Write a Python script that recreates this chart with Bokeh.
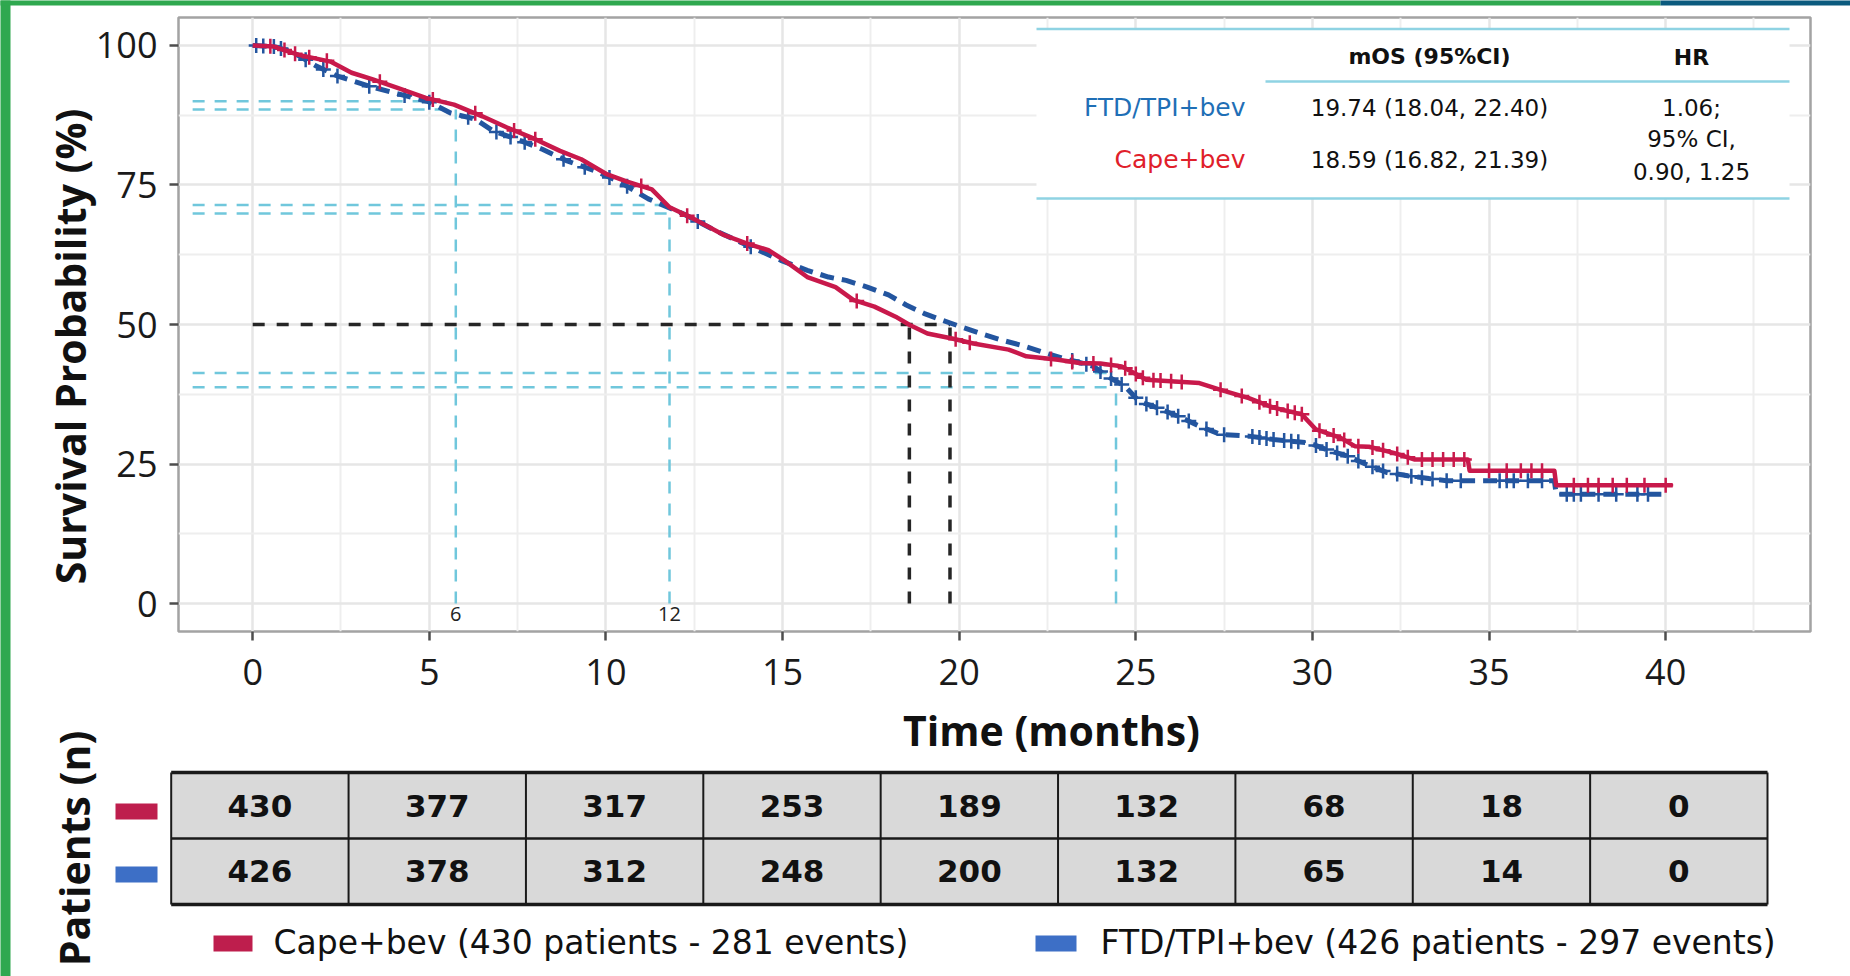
import numpy as np
from bokeh.plotting import figure
from bokeh.models import Range1d, FixedTicker
from bokeh.core.properties import value
from bokeh.embed import file_html
from bokeh.resources import INLINE

# ---------------- data ----------------
cape_t = [0, 0.6, 1.3, 2.2, 2.8, 3.4, 4.1, 4.9, 5.7, 6.5, 7.2, 8.0, 8.7, 9.3, 10.0, 10.6,
          11.3, 11.8, 12.4, 13.35, 14.0, 14.6, 15.05, 15.7, 16.5, 17.0, 17.6, 18.2, 18.6,
          19.1, 19.8, 20.4, 21.4, 21.9, 22.8, 23.4, 24.0, 24.6, 24.95, 25.3, 26.1, 26.8,
          27.4, 28.2, 28.9, 29.7, 30.1, 30.8, 31.2, 31.6, 32.3, 32.9, 34.4, 34.45, 36.85,
          36.9, 40.2]
cape_s = [100, 99.8, 98.3, 97.1, 95.1, 93.9, 92.4, 90.6, 89.4, 87.3, 85.3, 83.2, 81.1, 79.6,
          77.0, 75.6, 74.2, 71.0, 69.2, 66.0, 64.5, 63.3, 61.5, 58.5, 56.7, 54.4, 53.2, 51.4,
          49.9, 48.4, 47.5, 46.6, 45.5, 44.3, 43.7, 43.1, 43.0, 42.5, 41.3, 40.1, 39.8, 39.5,
          38.3, 36.8, 35.1, 33.9, 31.2, 29.7, 28.2, 28.1, 27.0, 25.8, 25.8, 23.8, 23.8, 21.2,
          21.2]
ftd_t = [0, 0.6, 1.1, 1.8, 2.4, 3.3, 4.0, 4.95, 5.6, 6.3, 6.8, 7.6, 8.2, 8.9, 9.7, 10.4,
         11.2, 11.75, 12.2, 13.1, 14.0, 14.95, 15.7, 16.3, 16.8, 17.4, 18.0, 18.5, 19.0,
         19.5, 20.05, 20.6, 21.2, 21.75, 22.3, 22.9, 23.3, 23.8, 24.2, 24.7, 25.1, 25.6,
         26.3, 26.8, 27.4, 28.2, 28.9, 29.9, 30.4, 31.0, 31.5, 32.1, 32.7, 33.3, 33.8,
         36.85, 36.9, 39.9]
ftd_s = [100, 99.8, 98.9, 96.3, 94.5, 92.7, 91.5, 90.0, 87.9, 86.8, 84.7, 82.9, 81.4, 79.3,
         77.5, 75.5, 72.5, 71.0, 69.8, 66.8, 64.2, 61.5, 59.7, 58.5, 57.9, 56.7, 55.3, 53.5,
         52.0, 50.8, 49.6, 48.4, 47.2, 46.3, 45.2, 44.0, 43.4, 42.5, 40.7, 38.9, 36.2, 35.1,
         33.3, 31.8, 30.3, 30.0, 29.4, 28.8, 27.6, 26.4, 25.0, 23.5, 22.9, 22.4, 22.0, 22.0,
         19.6, 19.6]
cape_censor = [0.5, 0.9, 1.2, 1.6, 2.1, 3.6, 5.1, 6.3, 7.4, 8.0, 11.0, 12.3, 14.0, 17.1,
               19.9, 20.3, 22.6, 23.2, 23.8, 24.3, 24.7, 25.0, 25.2, 25.5, 25.7, 26.0, 26.3,
               27.4, 28.0, 28.5, 28.8, 29.0, 29.3, 29.5, 29.7, 30.2, 30.6, 30.9, 31.3, 31.7,
               32.0, 32.4, 32.7, 33.1, 33.4, 33.7, 34.0, 34.3, 35.0, 35.5, 35.9, 36.2, 36.5,
               37.4, 37.8, 38.1, 38.5, 38.9, 39.4, 40.0]
ftd_censor = [0.1, 0.3, 0.6, 0.8, 1.5, 2.0, 2.4, 3.3, 4.3, 5.0, 6.1, 6.9, 7.3, 7.7, 8.8, 9.4,
              10.1, 10.6, 12.6, 14.1, 23.2, 23.6, 24.0, 24.3, 24.6, 25.0, 25.3, 25.6, 25.9,
              26.2, 26.5, 27.0, 27.5, 28.3, 28.5, 28.7, 28.9, 29.2, 29.4, 29.6, 30.1, 30.4,
              30.7, 31.0, 31.3, 31.7, 32.0, 32.4, 32.8, 33.1, 33.4, 33.8, 34.2, 35.3, 35.5,
              35.7, 36.1, 36.5, 37.2, 37.4, 37.6, 38.1, 38.6, 39.2, 39.5]

arms = ["FTD/TPI+bev", "Cape+bev"]
mos = [19.74, 18.59]
mos_lo = [18.04, 16.82]
mos_hi = [22.40, 21.39]
hr, hr_lo, hr_hi = 1.06, 0.90, 1.25

risk_times = [0, 5, 10, 15, 20, 25, 30, 35, 40]
risk_cape = [430, 377, 317, 253, 189, 132, 68, 18, 0]
risk_ftd = [426, 378, 312, 248, 200, 132, 65, 14, 0]
legend_cape = "Cape+bev (430 patients - 281 events)"
legend_ftd = "FTD/TPI+bev (426 patients - 297 events)"

landmark_x = [5.75, 11.8, 24.44]
landmark_label = ["6", "12", ""]
landmark_hi = [90.0, 71.4, 41.3]
landmark_lo = [88.5, 69.9, 38.75]

x_ticks = [0, 5, 10, 15, 20, 25, 30, 35, 40]
y_ticks = [0, 25, 50, 75, 100]
x_title = "Time (months)"
y_title = "Survival Probability (%)"
table_title = "Patients (n)"

# ---------------- layout constants ----------------
PAGE_W, PAGE_H = 1850, 976
FL, FR, FT, FB = 178, 1810, 17, 631
X0, X1, Y0, Y1 = -2.1, 44.1, -5.0, 105.0

RED = "#c8194b"
BLUE = "#23559f"
RED_SQ = "#be1e4d"
BLUE_SQ = "#3d6fc6"
CYAN = "#70c7dc"
GREEN = "#2fa84f"


def dx(px):
    return X0 + (px - FL) * (X1 - X0) / (FR - FL)


def dy(py):
    return Y1 - (py - FT) * (Y1 - Y0) / (FB - FT)


p = figure(width=PAGE_W, height=PAGE_H, x_range=Range1d(X0, X1), y_range=Range1d(Y0, Y1),
           output_backend="svg", toolbar_location=None,
           min_border_left=FL, min_border_right=PAGE_W - FR,
           min_border_top=FT, min_border_bottom=PAGE_H - FB,
           background_fill_color="white", border_fill_color="white")
p.outline_line_color = "#a3a3a3"
p.outline_line_width = 2.5

p.xaxis.ticker = FixedTicker(ticks=x_ticks, minor_ticks=[t + 2.5 for t in x_ticks])
p.yaxis.ticker = FixedTicker(ticks=y_ticks, minor_ticks=[t + 12.5 for t in y_ticks[:-1]])
for ax in (p.xaxis[0], p.yaxis[0]):
    ax.axis_line_color = None
    ax.major_tick_line_color = "#4d4d4d"
    ax.major_tick_line_width = 2.5
    ax.major_tick_out = 9
    ax.major_tick_in = 0
    ax.minor_tick_line_color = None
    ax.major_label_text_font = "Open Sans"
    ax.major_label_text_font_size = "36px"
    ax.major_label_text_color = "#1a1a1a"
p.xaxis.major_label_standoff = 18
p.yaxis.major_label_standoff = 12

for g in (p.xgrid[0], p.ygrid[0]):
    g.grid_line_color = "#e6e6e6"
    g.grid_line_width = 2.5
    g.minor_grid_line_color = "#eeeeee"
    g.minor_grid_line_width = 2

TITLE = dict(text_font=value("Open Sans"), text_font_style="bold", text_font_size="41px",
             text_color="#111111", level="overlay")
# axis titles (placed where the reference has them)
p.text(x=[dx(1051)], y=[dy(729)], text=[x_title], text_align="center",
       text_baseline="alphabetic", **TITLE)
p.text(x=[dx(69)], y=[dy(346)], text=[y_title], angle=np.pi / 2, text_align="center",
       text_baseline="middle", **TITLE)

# ---------------- inset table box (inside the panel) ----------------
IL, IR, ITop, IHead, IBot = 1036, 1789, 28.5, 81, 198
p.quad(left=dx(IL), right=dx(IR), top=dy(ITop), bottom=dy(IBot),
       fill_color="white", line_color=None)

# ---------------- reference lines ----------------
n_l = len(landmark_x)
p.segment(x0=[-1.7] * n_l, y0=landmark_hi, x1=landmark_x, y1=landmark_hi,
          line_color=CYAN, line_width=2.5, line_dash="12 10")
p.segment(x0=[-1.7] * n_l, y0=landmark_lo, x1=landmark_x, y1=landmark_lo,
          line_color=CYAN, line_width=2.5, line_dash="12 10")
p.segment(x0=landmark_x, y0=[0] * n_l, x1=landmark_x, y1=landmark_lo,
          line_color=CYAN, line_width=2.5, line_dash="12 10")
p.text(x=landmark_x, y=[-1.9] * n_l, text=landmark_label, text_font=value("Open Sans"),
       text_font_size="20px", text_color="#222222", text_align="center",
       text_baseline="middle")

p.line(x=[0, max(mos)], y=[50, 50], line_color="#262626", line_width=3.5, line_dash="12 12")
p.segment(x0=mos, y0=[0] * len(mos), x1=mos, y1=[50] * len(mos),
          line_color="#262626", line_width=3.5, line_dash="12 12")

# ---------------- KM curves ----------------
p.line(ftd_t, ftd_s, line_color=BLUE, line_width=5, line_dash="14 8")
p.scatter(ftd_censor, np.interp(ftd_censor, ftd_t, ftd_s), marker="cross", size=15,
          line_color=BLUE, line_width=2.5)
p.line(cape_t, cape_s, line_color=RED, line_width=4.5, line_join="round")
p.scatter(cape_censor, np.interp(cape_censor, cape_t, cape_s), marker="cross", size=15,
          line_color=RED, line_width=2.5)

# ---------------- inset table content ----------------
p.segment(x0=[dx(IL), dx(1265), dx(IL)], y0=[dy(ITop), dy(IHead), dy(IBot)],
          x1=[dx(IR)] * 3, y1=[dy(ITop), dy(IHead), dy(IBot)],
          line_color="#8fd3e3", line_width=2.5)
p.text(x=[dx(1429), dx(1691)], y=[dy(55.5), dy(57)], text=["mOS (95%CI)", "HR"],
       text_font=value("DejaVu Sans"), text_font_style="bold", text_font_size="22px",
       text_color="#111111", text_align="center", text_baseline="middle")
row_y = [dy(107.4), dy(159.3)]
p.text(x=[dx(1245)] * 2, y=row_y, text=arms, text_color=["#1f6fb6", "#e0202a"],
       text_font=value("DejaVu Sans"), text_font_size="25px",
       text_align="right", text_baseline="middle")
p.text(x=[dx(1429)] * 2, y=row_y,
       text=[f"{m:.2f} ({a:.2f}, {b:.2f})" for m, a, b in zip(mos, mos_lo, mos_hi)],
       text_font=value("DejaVu Sans"), text_font_size="23px", text_color="#111111",
       text_align="center", text_baseline="middle")
p.text(x=[dx(1691)] * 3, y=[dy(107.4), dy(138), dy(171)],
       text=[f"{hr:.2f};", "95% CI,", f"{hr_lo:.2f}, {hr_hi:.2f}"],
       text_font=value("DejaVu Sans"), text_font_size="23px", text_color="#111111",
       text_align="center", text_baseline="middle")

# ---------------- frame decoration (outside the panel) ----------------
OV = dict(level="overlay")
p.quad(left=dx(0), right=dx(10), top=dy(0), bottom=dy(PAGE_H), fill_color=GREEN,
       line_color=None, **OV)
p.quad(left=dx(0), right=dx(1660), top=dy(0), bottom=dy(5), fill_color=GREEN,
       line_color=None, **OV)
p.quad(left=dx(1660), right=dx(PAGE_W), top=dy(0), bottom=dy(5), fill_color="#0b5a7e",
       line_color=None, **OV)

# ---------------- number-at-risk table ----------------
TL, TR = 170.7, 1767.0
TT, TM, TBt = 772.0, 838.0, 904.0
n = len(risk_times)
cw = (TR - TL) / n
p.quad(left=dx(TL), right=dx(TR), top=dy(TT), bottom=dy(TBt), fill_color="#d9d9d9",
       line_color=None, **OV)
vx = [dx(TL + i * cw) for i in range(n + 1)]
p.segment(x0=vx, y0=[dy(TT)] * (n + 1), x1=vx, y1=[dy(TBt)] * (n + 1),
          line_color="#1a1a1a", line_width=2, **OV)
p.segment(x0=[dx(TL)] * 2, y0=[dy(TT), dy(TBt)], x1=[dx(TR)] * 2, y1=[dy(TT), dy(TBt)],
          line_color="#1a1a1a", line_width=3.5, **OV)
p.segment(x0=[dx(TL)], y0=[dy(TM)], x1=[dx(TR)], y1=[dy(TM)],
          line_color="#1a1a1a", line_width=2.5, **OV)
cx = [dx(TL + (i + 0.5) * cw) for i in range(n)]
p.text(x=cx, y=[dy(805.5)] * n, text=[str(v) for v in risk_cape],
       text_font=value("DejaVu Sans"), text_font_style="bold", text_font_size="31px",
       text_color="#111111", text_align="center", text_baseline="middle", **OV)
p.text(x=cx, y=[dy(870.5)] * n, text=[str(v) for v in risk_ftd],
       text_font=value("DejaVu Sans"), text_font_style="bold", text_font_size="31px",
       text_color="#111111", text_align="center", text_baseline="middle", **OV)

# row colour keys
p.quad(left=[dx(115)] * 2, right=[dx(157)] * 2, top=[dy(803), dy(866)],
       bottom=[dy(819), dy(882)], fill_color=[RED_SQ, BLUE_SQ], line_color=None, **OV)
p.text(x=[dx(73)], y=[dy(848)], text=[table_title], angle=np.pi / 2,
       text_align="center", text_baseline="middle", **TITLE)

# legend
p.quad(left=[dx(213), dx(1035)], right=[dx(252), dx(1076)], top=[dy(935)] * 2,
       bottom=[dy(951)] * 2, fill_color=[RED_SQ, BLUE_SQ], line_color=None, **OV)
p.text(x=[dx(273), dx(1100)], y=[dy(942)] * 2, text=[legend_cape, legend_ftd],
       text_font=value("DejaVu Sans"), text_font_size="33px", text_color="#111111",
       text_align="left", text_baseline="middle", **OV)

open("out.html", "w").write(file_html(p, INLINE))
